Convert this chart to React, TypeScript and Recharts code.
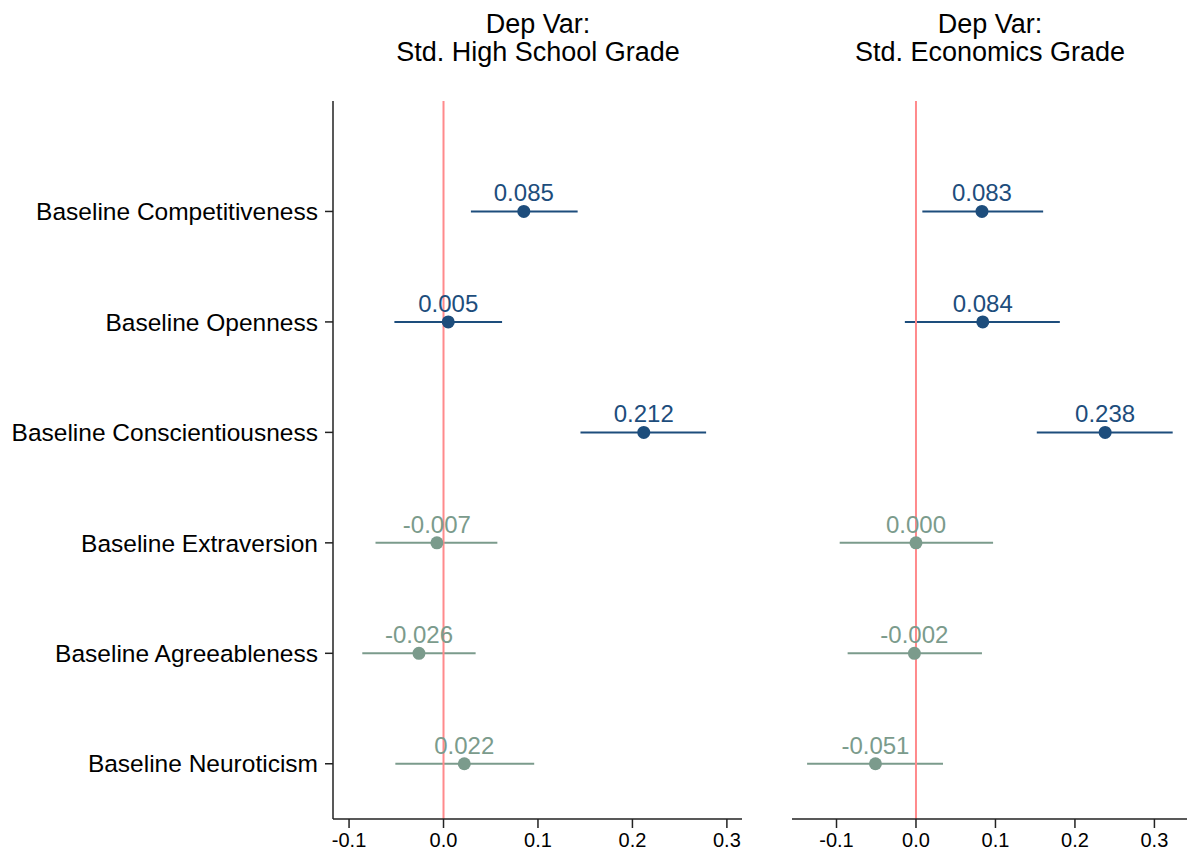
import React from "react";
import {
  ScatterChart,
  Scatter,
  XAxis,
  YAxis,
  ErrorBar,
  ReferenceLine,
} from "recharts";

// Coefficient plot: baseline traits vs. standardized grades, two panels.

const categories = [
  "Baseline Competitiveness",
  "Baseline Openness",
  "Baseline Conscientiousness",
  "Baseline Extraversion",
  "Baseline Agreeableness",
  "Baseline Neuroticism",
];

// first three rows are drawn in the dark blue, the rest in grey-green
const highlighted = [true, true, true, false, false, false];

// Std. High School Grade
const hsEst = [0.085, 0.005, 0.212, -0.007, -0.026, 0.022];
const hsLo = [0.029, -0.052, 0.145, -0.072, -0.086, -0.051];
const hsHi = [0.142, 0.062, 0.278, 0.057, 0.034, 0.096];

// Std. Economics Grade
const ecEst = [0.083, 0.084, 0.238, 0.0, -0.002, -0.051];
const ecLo = [0.008, -0.014, 0.152, -0.096, -0.086, -0.137];
const ecHi = [0.16, 0.181, 0.323, 0.097, 0.083, 0.034];

const xTicks = [-0.1, 0, 0.1, 0.2, 0.3];
const rowTicks = [0, 1, 2, 3, 4, 5];

const BLUE = "#1d4d7c";
const GREEN = "#7b9b8c";
const REF_RED = "#ff8a8c";
const AXIS = "#222";
const FONT = "'Liberation Sans', Arial, Helvetica, sans-serif";

type Row = { name: string; row: number; est: number; lo: number; hi: number };

function makeRows(est: number[], lo: number[], hi: number[]): Row[] {
  return categories.map((name, i) => ({ name, row: i, est: est[i], lo: lo[i], hi: hi[i] }));
}

const ciDelta = (d: Row) => [d.est - d.lo, d.hi - d.est];

function Dot(color: string) {
  return (props: any) => {
    const { cx, cy, payload } = props;
    return (
      <g>
        <circle cx={cx} cy={cy} r={6.5} fill={color} />
        <text
          x={cx}
          y={cy - 10}
          textAnchor="middle"
          fontSize={24}
          fontFamily={FONT}
          fill={color}
        >
          {payload.est.toFixed(3)}
        </text>
      </g>
    );
  };
}

function Panel({
  rows,
  domain,
  width,
  marginLeft,
  showCategories,
}: {
  rows: Row[];
  domain: [number, number];
  width: number;
  marginLeft: number;
  showCategories: boolean;
}) {
  const top = rows.filter((r) => highlighted[r.row]);
  const rest = rows.filter((r) => !highlighted[r.row]);
  return (
    <ScatterChart
      width={width}
      height={853}
      margin={{ top: 101, right: showCategories ? 8 : 0, bottom: 0, left: marginLeft }}
    >
      <XAxis
        type="number"
        dataKey="est"
        domain={domain}
        ticks={xTicks}
        allowDataOverflow
        tickFormatter={(v: number) => v.toFixed(1)}
        height={34}
        tickSize={9}
        tickMargin={5}
        axisLine={{ stroke: AXIS, strokeWidth: 1.5 }}
        tickLine={{ stroke: AXIS, strokeWidth: 1.5 }}
        tick={{ fontSize: 20, fill: "#000", fontFamily: FONT }}
      />
      <YAxis
        type="number"
        dataKey="row"
        reversed
        domain={[-1, 5.5]}
        ticks={rowTicks}
        hide={!showCategories}
        width={showCategories ? 333 : 0}
        tickFormatter={(i: number) => categories[i]}
        tickSize={8}
        tickMargin={7}
        axisLine={{ stroke: AXIS, strokeWidth: 1.5 }}
        tickLine={{ stroke: AXIS, strokeWidth: 1.5 }}
        tick={{ fontSize: 24.5, fill: "#000", fontFamily: FONT }}
      />
      <Scatter data={top} shape={Dot(BLUE)} isAnimationActive={false}>
        <ErrorBar
          dataKey={ciDelta}
          direction="x"
          width={0}
          stroke={BLUE}
          strokeWidth={2}
          isAnimationActive={false}
        />
      </Scatter>
      <Scatter data={rest} shape={Dot(GREEN)} isAnimationActive={false}>
        <ErrorBar
          dataKey={ciDelta}
          direction="x"
          width={0}
          stroke={GREEN}
          strokeWidth={2}
          isAnimationActive={false}
        />
      </Scatter>
      <ReferenceLine x={0} stroke={REF_RED} strokeWidth={2} />
    </ScatterChart>
  );
}

const titleStyle: React.CSSProperties = {
  position: "absolute",
  top: 10,
  width: 420,
  textAlign: "center",
  fontFamily: FONT,
  fontSize: 27,
  lineHeight: "28px",
  color: "#000",
};

export default function App() {
  return (
    <div
      style={{
        position: "absolute",
        top: 0,
        left: 0,
        width: 1187,
        height: 853,
        background: "#fff",
        overflow: "hidden",
      }}
    >
      <div style={{ ...titleStyle, left: 538 - 210 }}>
        Dep Var:
        <br />
        Std. High School Grade
      </div>
      <div style={{ ...titleStyle, left: 990 - 210 }}>
        Dep Var:
        <br />
        Std. Economics Grade
      </div>
      <div style={{ position: "absolute", left: 0, top: 0 }}>
        <Panel
          rows={makeRows(hsEst, hsLo, hsHi)}
          domain={[-0.117, 0.316]}
          width={750}
          marginLeft={0}
          showCategories
        />
      </div>
      <div style={{ position: "absolute", left: 780, top: 0 }}>
        <Panel
          rows={makeRows(ecEst, ecLo, ecHi)}
          domain={[-0.156, 0.341]}
          width={407}
          marginLeft={12}
          showCategories={false}
        />
      </div>
    </div>
  );
}
